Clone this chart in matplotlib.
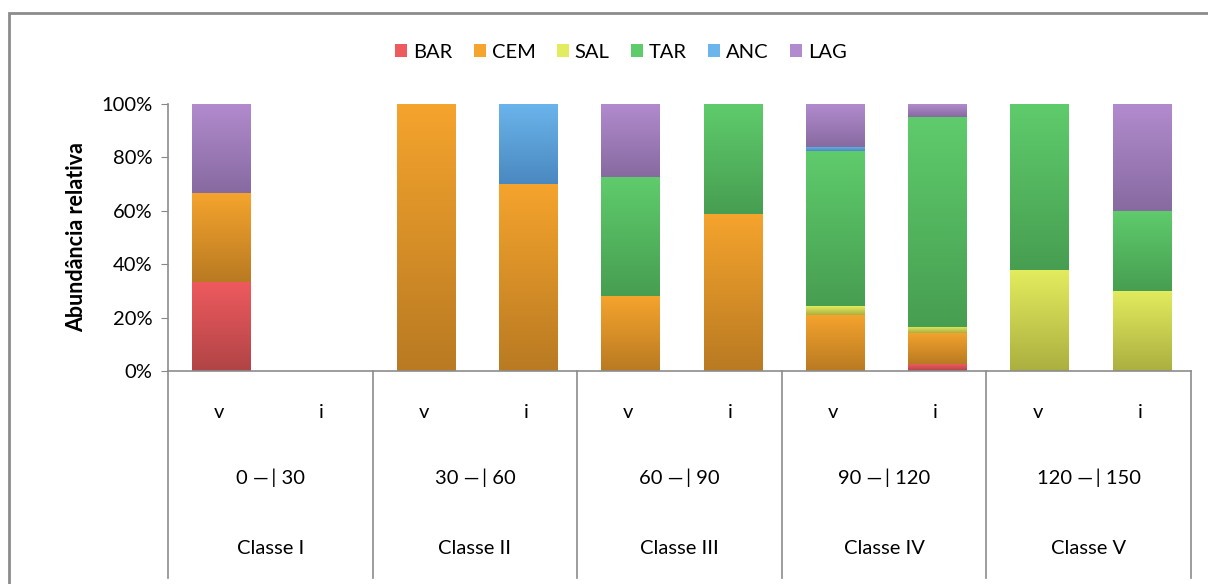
import numpy as np
import matplotlib
matplotlib.use("Agg")
import matplotlib.pyplot as plt
from matplotlib.colors import LinearSegmentedColormap
from matplotlib.patches import Patch, Rectangle
from matplotlib.lines import Line2D

plt.rcParams["font.family"] = ["Lato", "DejaVu Sans"]

# relative abundance (%) per bar, season v / i inside each size class
species = ["BAR", "CEM", "SAL", "TAR", "ANC", "LAG"]
bar_labels = ["v", "i", "v", "i", "v", "i", "v", "i", "v", "i"]
ranges = ["0 \u2014\u2009| 30", "30 \u2014\u2009| 60", "60 \u2014\u2009| 90",
          "90 \u2014\u2009| 120", "120 \u2014\u2009| 150"]
classes = ["Classe I", "Classe II", "Classe III", "Classe IV", "Classe V"]

bar_vals = [33.3, 0, 0, 0, 0, 0, 0, 2.6, 0, 0]
cem_vals = [33.3, 0, 100, 70, 28, 58.8, 21, 11.7, 0, 0]
sal_vals = [0, 0, 0, 0, 0, 0, 3.3, 2.3, 37.7, 30]
tar_vals = [0, 0, 0, 0, 44.5, 41.2, 58.1, 78.7, 62.3, 30]
anc_vals = [0, 0, 0, 30, 0, 0, 1.5, 0, 0, 0]
lag_vals = [33.4, 0, 0, 0, 27.5, 0, 16.1, 4.7, 0, 40]

# (light top, dark bottom) per species
colors = {
    "BAR": ("#EE5A5E", "#B04446"),
    "CEM": ("#F5A42D", "#B97A22"),
    "SAL": ("#E3EC5E", "#ABAF40"),
    "TAR": ("#5FCC6C", "#479E51"),
    "ANC": ("#6BB5EC", "#4A88C0"),
    "LAG": ("#B28BCE", "#876AA0"),
}

series = [bar_vals, cem_vals, sal_vals, tar_vals, anc_vals, lag_vals]

FS = 14.5

W, H = 1208, 584
fig = plt.figure(figsize=(W / 100, H / 100), dpi=100)
ax = fig.add_axes([168 / W, (H - 371) / H, (1191 - 168) / W, 267 / H])

x = np.arange(len(bar_labels))
width = 0.57
grad = np.linspace(0, 1, 256).reshape(-1, 1)

bottom = np.zeros(len(x))
for name, vals in zip(species, series):
    vals = np.array(vals, dtype=float) / 100
    light, dark = colors[name]
    cmap = LinearSegmentedColormap.from_list(name, [dark, light])
    bars = ax.bar(x + 0.02, vals, width, bottom=bottom, color="none", edgecolor="none")
    for rect, v in zip(bars, vals):
        if v <= 0:
            continue
        x0 = rect.get_x()
        y0 = rect.get_y()
        im = ax.imshow(grad, cmap=cmap, aspect="auto", origin="lower",
                       extent=[x0, x0 + width, y0, y0 + v], zorder=2)
        im.set_clip_path(rect)
    bottom += vals

ax.set_xlim(-0.5, len(x) - 0.5)
ax.set_ylim(0, 1)
ticks = np.arange(0, 1.01, 0.2)
ax.set_yticks(ticks)
ax.set_yticklabels([f"{int(round(t * 100))}%" for t in ticks], fontsize=FS)
ax.set_xticks([])
ax.tick_params(axis="y", direction="out", length=5, color="#868686", pad=6)
for s in ["top", "right"]:
    ax.spines[s].set_visible(False)
for s in ["left", "bottom"]:
    ax.spines[s].set_color("#8C8C8C")
    ax.spines[s].set_linewidth(1.2)

ax.set_ylabel("Abundância relativa", fontsize=15.5, fontweight="bold", labelpad=10)

# multi-level category axis
tr = ax.get_xaxis_transform()
for i, lab in enumerate(bar_labels):
    ax.text(i, -0.155, lab, transform=tr, ha="center", va="center", fontsize=FS)
for g in range(len(classes)):
    cx = 2 * g + 0.5
    ax.text(cx, -0.40, ranges[g], transform=tr, ha="center", va="center", fontsize=FS)
    ax.text(cx, -0.665, classes[g], transform=tr, ha="center", va="center", fontsize=FS)
for g in range(len(classes) + 1):
    xb = 2 * g - 0.5
    ax.add_line(Line2D([xb, xb], [0, -0.775], transform=tr, color="#8C8C8C",
                       lw=1.2, clip_on=False))

# outer chart frame
fig.add_artist(Rectangle((9 / W, -0.05), 1.1, (H - 13) / H + 0.05,
                         transform=fig.transFigure, fill=False,
                         edgecolor="#8C8C8C", lw=2))

handles = [Patch(facecolor=colors[s][0], edgecolor="none") for s in species]
fig.legend(handles, species, loc="center", bbox_to_anchor=(0.514, 1 - 52 / H),
           ncol=6, frameon=False, fontsize=FS, handlelength=0.6, handleheight=0.6,
           handletextpad=0.3, columnspacing=1.05)

fig.savefig("out.png", dpi=100)
